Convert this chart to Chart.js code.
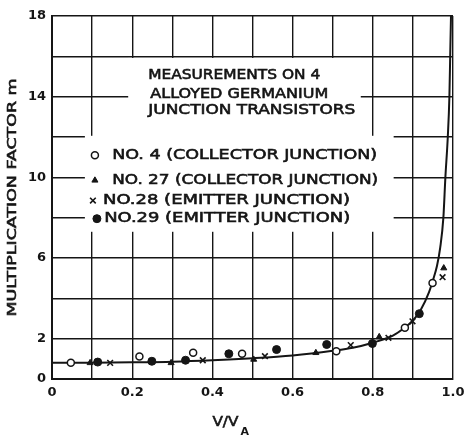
<!DOCTYPE html>
<html>
<head>
<meta charset="utf-8">
<script src="https://cdn.jsdelivr.net/npm/chart.js@4.4.1/dist/chart.umd.min.js"></script>
<style>
  html, body { margin: 0; padding: 0; background: #fff; }
  canvas { display: block; }
</style>
</head>
<body>
<canvas id="grafica" width="466" height="439"></canvas>
<script>
// Valores (V/VA, factor m)
const no4X  = [0.047, 0.218, 0.352, 0.474, 0.709, 0.880, 0.949];
const no4M  = [0.80, 1.12, 1.30, 1.25, 1.38, 2.54, 4.76];
const no27X = [0.095, 0.297, 0.503, 0.658, 0.816, 0.977];
const no27M = [0.80, 0.80, 0.97, 1.30, 2.09, 5.50];
const no28X = [0.145, 0.376, 0.531, 0.745, 0.839, 0.899, 0.974];
const no28M = [0.80, 0.93, 1.13, 1.68, 2.04, 2.86, 5.05];
const no29X = [0.114, 0.249, 0.333, 0.441, 0.560, 0.685, 0.799, 0.916];
const no29M = [0.84, 0.88, 0.93, 1.25, 1.46, 1.71, 1.76, 3.24];

// curva dibujada a mano en la figura
const curvaX = [0, 0.1, 0.2, 0.3, 0.4, 0.5, 0.6, 0.7, 0.75, 0.8, 0.85, 0.88, 0.9, 0.92, 0.94, 0.95, 0.96, 0.968, 0.976, 0.981, 0.987, 0.991, 0.993, 0.995];
const curvaM = [0.80, 0.81, 0.83, 0.86, 0.93, 1.03, 1.17, 1.40, 1.55, 1.80, 2.15, 2.55, 2.90, 3.45, 4.30, 4.90, 5.60, 6.50, 8.0, 10.0, 12.0, 14.0, 16.0, 18.0];

const etiquetasX = ["0", "0.2", "0.4", "0.6", "0.8", "1.0"];
const etiquetasY = [0, 2, 6, 10, 14, 18];

const titulo = ["MEASUREMENTS ON 4", "ALLOYED GERMANIUM", "JUNCTION TRANSISTORS"];
const leyenda = ["NO. 4 (COLLECTOR JUNCTION)", "NO. 27 (COLLECTOR JUNCTION)", "NO.28 (EMITTER JUNCTION)", "NO.29 (EMITTER JUNCTION)"];

const negro = "#151515";
const fuente = "'DejaVu Sans', sans-serif";

function puntos(xs, ys) {
    return xs.map((x, i) => ({ x: x, y: ys[i] }));
}

// Texto estirado a un ancho dado (la rotulacion original es ancha)
function textoAncho(ctx, texto, x, y, ancho, trazo) {
    const w = ctx.measureText(texto).width;
    ctx.save();
    ctx.translate(x, y);
    ctx.scale(ancho / w, 1);
    ctx.fillText(texto, 0, 0);
    if (trazo) {
        ctx.lineWidth = trazo;
        ctx.strokeStyle = ctx.fillStyle;
        ctx.strokeText(texto, 0, 0);
    }
    ctx.restore();
}

const rotulos = {
    id: "rotulos",
    beforeDatasetsDraw(chart) {
        const ctx = chart.ctx;
        const sx = chart.scales.x, sy = chart.scales.y;
        // fondos blancos que tapan la reticula detras del texto
        ctx.save();
        ctx.fillStyle = "#fff";
        const r1 = [0.19, 0.77, 15.92, 12.0];
        const r2 = [0.082, 0.852, 12.06, 7.3];
        [r1, r2].forEach(r => {
            const x0 = sx.getPixelForValue(r[0]), x1 = sx.getPixelForValue(r[1]);
            const y0 = sy.getPixelForValue(r[2]), y1 = sy.getPixelForValue(r[3]);
            ctx.fillRect(x0, y0, x1 - x0, y1 - y0);
        });
        ctx.restore();
    },
    afterDatasetsDraw(chart) {
        const ctx = chart.ctx;
        const area = chart.chartArea;
        const sx = chart.scales.x, sy = chart.scales.y;
        ctx.save();
        ctx.fillStyle = negro;
        ctx.textBaseline = "middle";
        ctx.textAlign = "left";
        ctx.font = "14px " + fuente;

        // titulo dentro del grafico
        const tx = [0.24, 0.245, 0.24];
        const ty = [15.05, 14.1, 13.3];
        const tw = [172, 178, 207];
        titulo.forEach((t, i) => {
            textoAncho(ctx, t, sx.getPixelForValue(tx[i]), sy.getPixelForValue(ty[i]), tw[i], 0.6);
        });

        // leyenda
        const lx = [0.15, 0.15, 0.127, 0.13];
        const ly = [11.1, 9.85, 8.85, 7.95];
        const lw = [265, 266, 247, 246];
        const mx = [0.107, 0.107, 0.102, 0.112];
        chart.data.datasets.slice(0, 4).forEach((ds, i) => {
            const px = sx.getPixelForValue(mx[i]);
            const py = sy.getPixelForValue(ly[i]);
            ctx.save();
            ctx.fillStyle = ds.pointBackgroundColor;
            ctx.strokeStyle = ds.pointBorderColor;
            ctx.lineWidth = ds.pointBorderWidth;
            Chart.helpers.drawPoint(ctx, { pointStyle: ds.pointStyle, radius: ds.pointRadius, rotation: 0, borderWidth: ds.pointBorderWidth }, px, py);
            ctx.restore();
            textoAncho(ctx, leyenda[i], sx.getPixelForValue(lx[i]), py, lw[i], 0.6);
        });

        // titulo eje Y
        ctx.save();
        ctx.translate(13, (area.top + area.bottom) / 2);
        ctx.rotate(-Math.PI / 2);
        ctx.textAlign = "left";
        ctx.font = "13px " + fuente;
        const tituloY = "MULTIPLICATION FACTOR m";
        const wy = 238;
        const w0 = ctx.measureText(tituloY).width;
        ctx.scale(wy / w0, 1);
        ctx.fillText(tituloY, -w0 / 2, 0);
        ctx.lineWidth = 0.6;
        ctx.strokeStyle = negro;
        ctx.strokeText(tituloY, -w0 / 2, 0);
        ctx.restore();

        // titulo eje X: V/VA con subindice
        ctx.font = "14px " + fuente;
        const baseX = sx.getPixelForValue(0.4);
        textoAncho(ctx, "V/V", baseX, 422, 26, 0.6);
        ctx.font = "bold 11px " + fuente;
        ctx.fillText("A", baseX + 28, 432);
        ctx.restore();
    }
};

new Chart(document.getElementById("grafica"), {
    data: {
        datasets: [
            {
                type: "scatter",
                label: "NO. 4",
                data: puntos(no4X, no4M),
                pointStyle: "circle",
                pointRadius: 3.5,
                pointBorderWidth: 1.5,
                pointBackgroundColor: "#fff",
                pointBorderColor: negro
            },
            {
                type: "scatter",
                label: "NO. 27",
                data: puntos(no27X, no27M),
                pointStyle: "triangle",
                pointRadius: 3.5,
                pointBorderWidth: 1,
                pointBackgroundColor: negro,
                pointBorderColor: negro
            },
            {
                type: "scatter",
                label: "NO. 28",
                data: puntos(no28X, no28M),
                pointStyle: "crossRot",
                pointRadius: 4,
                pointBorderWidth: 1.6,
                pointBackgroundColor: negro,
                pointBorderColor: negro
            },
            {
                type: "scatter",
                label: "NO. 29",
                data: puntos(no29X, no29M),
                pointStyle: "circle",
                pointRadius: 4,
                pointBorderWidth: 1,
                pointBackgroundColor: negro,
                pointBorderColor: negro
            },
            {
                type: "line",
                label: "curva",
                data: puntos(curvaX, curvaM),
                borderColor: negro,
                borderWidth: 2,
                pointRadius: 0,
                fill: false,
                cubicInterpolationMode: "monotone"
            }
        ]
    },
    options: {
        responsive: false,
        animation: false,
        devicePixelRatio: 1,
        layout: { padding: { top: 16, right: 13, left: 0, bottom: 0 } },
        plugins: {
            legend: { display: false },
            tooltip: { enabled: false }
        },
        scales: {
            x: {
                type: "linear",
                min: 0,
                max: 1,
                afterFit: scale => {
                    scale.height = 60;
                    scale.paddingRight = 0;
                    scale.paddingLeft = 0;
                },
                border: { color: negro, width: 2 },
                grid: { color: negro, lineWidth: 1.4, drawTicks: false },
                ticks: {
                    stepSize: 0.1,
                    padding: 6,
                    maxRotation: 0,
                    autoSkip: false,
                    color: negro,
                    font: { family: fuente, size: 13, weight: "bold" },
                    callback: v => {
                        const i = Math.round(v * 10);
                        return i % 2 === 0 ? etiquetasX[i / 2] : "";
                    }
                }
            },
            y: {
                type: "linear",
                min: 0,
                max: 18,
                afterFit: scale => { scale.width = 52; },
                border: { color: negro, width: 2 },
                grid: { color: negro, lineWidth: 1.4, drawTicks: false },
                ticks: {
                    stepSize: 2,
                    padding: 6,
                    autoSkip: false,
                    color: negro,
                    font: { family: fuente, size: 13, weight: "bold" },
                    callback: v => etiquetasY.includes(Math.round(v)) ? String(Math.round(v)) : ""
                }
            }
        }
    },
    plugins: [rotulos]
});
</script>
</body>
</html>
